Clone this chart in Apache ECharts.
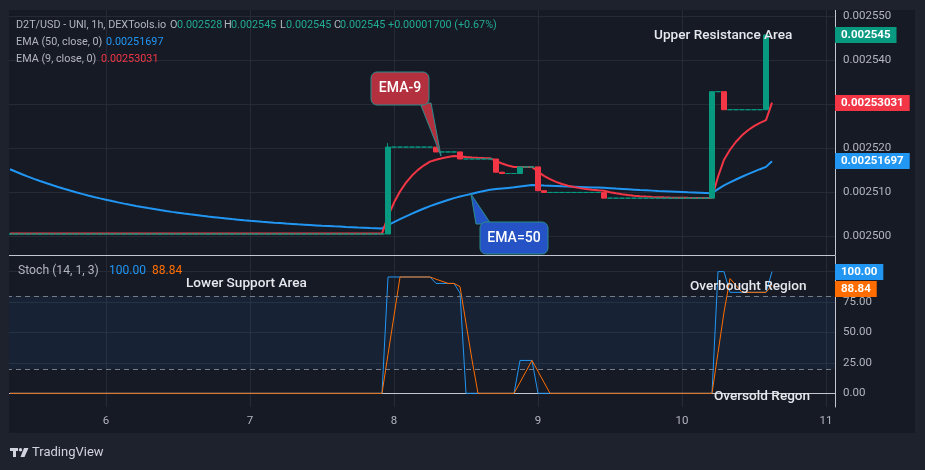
<!DOCTYPE html>
<html>
<head>
<meta charset="utf-8">
<script src="https://cdn.jsdelivr.net/npm/echarts@6/dist/echarts.min.js"></script>
<style>
  html, body { margin: 0; padding: 0; background: #161a25; }
  #chartMain { width: 925px; height: 470px; }
</style>
</head>
<body>
<div id="chartMain"></div>
<script>
  // hourly slots, day 5 08:00 .. day 11 01:00 (last 10 slots are empty space on the right)
  var startDay = 5, startHour = 8, slotCount = 138;
  var hours = [];
  for (var i = 0; i < slotCount; i++) {
    var t = startHour + i;
    var d = startDay + Math.floor(t / 24), hh = t % 24;
    hours.push(d + ' ' + (hh < 10 ? '0' + hh : hh));
  }

  var priceTicks = [0.0025, 0.00251, 0.00252, 0.00253, 0.00254, 0.00255];
  var stochTicks = [0, 25, 50, 75, 100];

  // close of every hourly candle (open = previous close)
  var closes = [
    0.00250045, 0.00250045, 0.00250045, 0.00250045, 0.00250045, 0.00250045, 0.00250045, 0.00250045,
    0.00250045, 0.00250045, 0.00250045, 0.00250045, 0.00250045, 0.00250045, 0.00250045, 0.00250045,
    0.00250045, 0.00250045, 0.00250045, 0.00250045, 0.00250045, 0.00250045, 0.00250045, 0.00250045,
    0.00250045, 0.00250045, 0.00250045, 0.00250045, 0.00250045, 0.00250045, 0.00250045, 0.00250045,
    0.00250045, 0.00250045, 0.00250045, 0.00250045, 0.00250045, 0.00250045, 0.00250045, 0.00250045,
    0.00250045, 0.00250045, 0.00250045, 0.00250045, 0.00250045, 0.00250045, 0.00250045, 0.00250045,
    0.00250045, 0.00250045, 0.00250045, 0.00250045, 0.00250045, 0.00250045, 0.00250045, 0.00250045,
    0.00250045, 0.00250045, 0.00250045, 0.00250045, 0.00250045, 0.00250045, 0.00250045,
    0.0025202, 0.0025202, 0.0025202, 0.0025202, 0.0025202, 0.0025202, 0.0025202, 0.0025202,
    0.0025191, 0.0025191, 0.0025191, 0.0025191, 0.0025175, 0.0025175, 0.0025175, 0.0025175,
    0.0025175, 0.0025175, 0.0025145, 0.0025142, 0.0025142, 0.0025142, 0.0025157, 0.0025157,
    0.0025157, 0.0025103, 0.0025099, 0.0025099, 0.0025099, 0.0025099, 0.0025099, 0.0025099,
    0.0025099, 0.0025099, 0.0025099, 0.0025099, 0.0025086, 0.0025086, 0.0025086, 0.0025086,
    0.0025086, 0.0025086, 0.0025086, 0.0025086, 0.0025086, 0.0025086, 0.0025086, 0.0025086,
    0.0025086, 0.0025086, 0.0025086, 0.0025086, 0.0025086, 0.0025086, 0.0025328, 0.0025328,
    0.0025287, 0.0025287, 0.0025287, 0.0025287, 0.0025287, 0.0025287, 0.0025287, 0.0025457
  ];
  var upperWick = { '7 23': 0.0025211 };

  var ema50 = [
    0.00251516, 0.00251459, 0.00251403, 0.00251350, 0.00251299, 0.00251250, 0.00251203, 0.00251158,
    0.00251115, 0.00251073, 0.00251033, 0.00250994, 0.00250957, 0.00250922, 0.00250888, 0.00250855,
    0.00250823, 0.00250793, 0.00250764, 0.00250736, 0.00250709, 0.00250683, 0.00250658, 0.00250634,
    0.00250612, 0.00250590, 0.00250568, 0.00250548, 0.00250529, 0.00250510, 0.00250492, 0.00250475,
    0.00250458, 0.00250442, 0.00250427, 0.00250412, 0.00250398, 0.00250384, 0.00250371, 0.00250358,
    0.00250346, 0.00250335, 0.00250323, 0.00250313, 0.00250302, 0.00250293, 0.00250283, 0.00250274,
    0.00250265, 0.00250257, 0.00250249, 0.00250241, 0.00250233, 0.00250226, 0.00250219, 0.00250213,
    0.00250206, 0.00250200, 0.00250194, 0.00250189, 0.00250183, 0.00250178, 0.00250173,
    0.00250245, 0.00250315, 0.00250382, 0.00250446, 0.00250508, 0.00250567, 0.00250624, 0.00250679,
    0.00250727, 0.00250773, 0.00250818, 0.00250861, 0.00250896, 0.00250929, 0.00250961, 0.00250992,
    0.00251022, 0.00251050, 0.00251066, 0.00251080, 0.00251093, 0.00251106, 0.00251124, 0.00251142,
    0.00251159, 0.00251154, 0.00251147, 0.00251141, 0.00251135, 0.00251129, 0.00251124, 0.00251119,
    0.00251114, 0.00251109, 0.00251104, 0.00251100, 0.00251095, 0.00251086, 0.00251077, 0.00251069,
    0.00251061, 0.00251053, 0.00251045, 0.00251038, 0.00251031, 0.00251024, 0.00251018, 0.00251012,
    0.00251006, 0.00251000, 0.00250994, 0.00250989, 0.00250984, 0.00250979, 0.00250974, 0.00251065,
    0.00251152, 0.00251219, 0.00251284, 0.00251346, 0.00251406, 0.00251463, 0.00251518, 0.00251571,
    0.00251697
  ];

  var ema9 = [
    0.00250055, 0.00250055, 0.00250055, 0.00250055, 0.00250055, 0.00250055, 0.00250055, 0.00250055,
    0.00250055, 0.00250055, 0.00250055, 0.00250055, 0.00250055, 0.00250055, 0.00250055, 0.00250055,
    0.00250055, 0.00250055, 0.00250055, 0.00250055, 0.00250055, 0.00250055, 0.00250055, 0.00250055,
    0.00250055, 0.00250055, 0.00250055, 0.00250055, 0.00250055, 0.00250055, 0.00250055, 0.00250055,
    0.00250055, 0.00250055, 0.00250055, 0.00250055, 0.00250055, 0.00250055, 0.00250055, 0.00250055,
    0.00250055, 0.00250055, 0.00250055, 0.00250055, 0.00250055, 0.00250055, 0.00250055, 0.00250055,
    0.00250055, 0.00250055, 0.00250055, 0.00250055, 0.00250055, 0.00250055, 0.00250055, 0.00250055,
    0.00250055, 0.00250055, 0.00250055, 0.00250055, 0.00250055, 0.00250055, 0.00250055,
    0.00250444, 0.00250759, 0.00251011, 0.00251213, 0.00251374, 0.00251503, 0.00251606, 0.00251689,
    0.00251733, 0.00251768, 0.00251796, 0.00251819, 0.00251805, 0.00251794, 0.00251785, 0.00251778,
    0.00251772, 0.00251768, 0.00251704, 0.00251647, 0.00251602, 0.00251566, 0.00251567, 0.00251567,
    0.00251568, 0.00251460, 0.00251366, 0.00251291, 0.00251231, 0.00251183, 0.00251144, 0.00251113,
    0.00251088, 0.00251068, 0.00251052, 0.00251040, 0.00251030, 0.00250996, 0.00250969, 0.00250947,
    0.00250930, 0.00250916, 0.00250905, 0.00250896, 0.00250889, 0.00250883, 0.00250878, 0.00250874,
    0.00250871, 0.00250869, 0.00250867, 0.00250866, 0.00250865, 0.00250864, 0.00250863, 0.00251346,
    0.00251733, 0.00251960, 0.00252142, 0.00252288, 0.00252404, 0.00252497, 0.00252572, 0.00252632,
    0.00253031
  ];

  var stochK = [
    0, 0, 0, 0, 0, 0, 0, 0, 0, 0, 0, 0, 0, 0, 0, 0, 0, 0, 0, 0, 0,
    0, 0, 0, 0, 0, 0, 0, 0, 0, 0, 0, 0, 0, 0, 0, 0, 0, 0, 0, 0, 0,
    0, 0, 0, 0, 0, 0, 0, 0, 0, 0, 0, 0, 0, 0, 0, 0, 0, 0, 0, 0, 0,
    95.6, 95.6, 95.6, 95.6, 95.6, 95.6, 95.6, 95.6, 90.3, 90.3, 90.3, 90.3, 82.5,
    0, 0, 0, 0, 0, 0, 0, 0, 0, 27, 27, 27,
    0, 0, 0, 0, 0, 0, 0, 0, 0, 0, 0, 0, 0, 0, 0,
    0, 0, 0, 0, 0, 0, 0, 0, 0, 0, 0, 0, 0, 0, 0,
    100, 100, 83, 83, 83, 83, 83, 83, 83, 100
  ];

  var stochD = [
    0, 0, 0, 0, 0, 0, 0, 0, 0, 0, 0, 0, 0, 0, 0, 0, 0, 0, 0, 0, 0,
    0, 0, 0, 0, 0, 0, 0, 0, 0, 0, 0, 0, 0, 0, 0, 0, 0, 0, 0, 0, 0,
    0, 0, 0, 0, 0, 0, 0, 0, 0, 0, 0, 0, 0, 0, 0, 0, 0, 0, 0, 0, 0,
    31.9, 63.7, 95.6, 95.6, 95.6, 95.6, 95.6, 95.6, 93.8, 92.1, 90.3, 90.3, 87.7, 57.6, 27.5,
    0, 0, 0, 0, 0, 0, 0, 9, 18, 27, 18, 9,
    0, 0, 0, 0, 0, 0, 0, 0, 0, 0, 0, 0, 0, 0,
    0, 0, 0, 0, 0, 0, 0, 0, 0, 0, 0, 0, 0, 0,
    33.3, 66.7, 94.3, 88.7, 83, 83, 83, 83, 83, 88.84
  ];

  // last values shown as tags on the right scale
  var lastPrice = 0.0025457, lastEma50 = 0.00251697, lastEma9 = 0.00253031;
  var lastK = 100, lastD = 88.84;

  var candles = closes.map(function (c, i) {
    var o = i ? closes[i - 1] : c;
    var hi = upperWick[hours[i]] || Math.max(o, c);
    return [o, c, Math.min(o, c), hi];
  });

  var GREEN = '#089981', RED = '#f23645', BLUE = '#2196f3', ORANGE = '#ff6d00';
  var TXT = '#b2b5be', GRIDC = '#252a36', SEP = '#c3c6ce';
  var FONT = 'Roboto, sans-serif';

  function isDay(index, value) { return value.slice(-2) === '00'; }

  function txt(x, y, s, color, size, weight, align) {
    return {
      type: 'text', x: x, y: y, z: 50, silent: true,
      style: {
        text: s, fill: color, align: align || 'left', verticalAlign: 'middle',
        font: (weight || 'normal') + ' ' + size + 'px ' + FONT
      }
    };
  }

  var LEG = 10.8;
  var graphics = [
    // outer frame
    { type: 'rect', z: 40, silent: true, shape: { x: 0, y: 0, width: 925, height: 10 }, style: { fill: '#1e222d' } },
    { type: 'rect', z: 40, silent: true, shape: { x: 0, y: 0, width: 9, height: 470 }, style: { fill: '#1e222d' } },
    { type: 'rect', z: 40, silent: true, shape: { x: 915, y: 0, width: 10, height: 470 }, style: { fill: '#1e222d' } },
    { type: 'rect', z: 40, silent: true, shape: { x: 0, y: 433, width: 925, height: 37 }, style: { fill: '#1e222d' } },

    // legend
    txt(16, 25, 'D2T/USD - UNI, 1h, DEXTools.io', TXT, LEG),
    txt(170, 25, 'O', TXT, LEG), txt(177, 25, '0.002528', '#22ab94', LEG),
    txt(224, 25, 'H', TXT, LEG), txt(231, 25, '0.002545', '#22ab94', LEG),
    txt(280, 25, 'L', TXT, LEG), txt(286, 25, '0.002545', '#22ab94', LEG),
    txt(334, 25, 'C', TXT, LEG), txt(340, 25, '0.002545', '#22ab94', LEG),
    txt(388, 25, '+0.00001700 (+0.67%)', '#22ab94', LEG),
    txt(16, 42, 'EMA (50, close, 0)', TXT, LEG), txt(106, 42, '0.00251697', BLUE, LEG),
    txt(16, 59, 'EMA (9, close, 0)', TXT, LEG), txt(101, 59, '0.00253031', RED, LEG),
    txt(18, 271, 'Stoch (14, 1, 3)', TXT, 12.2), txt(109, 271, '100.00', BLUE, 12),
    txt(152, 271, '88.84', ORANGE, 12),

    // annotations
    txt(654, 36, 'Upper Resistance Area', '#e6e8ee', 13.6, 500),
    txt(186, 284, 'Lower Support Area', '#e6e8ee', 13.6, 500),
    txt(690, 287, 'Overbought Region', '#e6e8ee', 13.6, 500),
    txt(714, 397, 'Oversold Regon', '#e6e8ee', 13.6, 500),

    // callouts
    { type: 'polygon', z: 45, silent: true, shape: { points: [[420, 103], [431, 103], [441, 156]] },
      style: { fill: '#b3303f', stroke: '#2b8c8c', lineWidth: 1 } },
    { type: 'rect', z: 46, silent: true, shape: { x: 371, y: 72, width: 58, height: 33, r: 6 },
      style: { fill: '#b3303f', stroke: '#2b8c8c', lineWidth: 1 } },
    txt(400, 88.5, 'EMA-9', '#ffffff', 14, 500, 'center'),
    { type: 'polygon', z: 45, silent: true, shape: { points: [[471, 194], [476, 224], [491, 224]] },
      style: { fill: '#2552c4', stroke: '#2b8c8c', lineWidth: 1 } },
    { type: 'rect', z: 46, silent: true, shape: { x: 480, y: 222, width: 68, height: 32, r: 6 },
      style: { fill: '#2552c4', stroke: '#2b8c8c', lineWidth: 1 } },
    txt(514, 238, 'EMA=50', '#ffffff', 14, 500, 'center'),

    // TradingView mark
    { type: 'rect', z: 50, silent: true, shape: { x: 10, y: 448, width: 8, height: 3 }, style: { fill: '#d1d4dc' } },
    { type: 'rect', z: 50, silent: true, shape: { x: 13, y: 448, width: 3, height: 9 }, style: { fill: '#d1d4dc' } },
    { type: 'circle', z: 50, silent: true, shape: { cx: 20.5, cy: 449.7, r: 1.7 }, style: { fill: '#d1d4dc' } },
    { type: 'polygon', z: 50, silent: true, shape: { points: [[24, 448], [28.5, 448], [24.5, 457], [20.5, 457]] }, style: { fill: '#d1d4dc' } },
    txt(32, 452.5, 'TradingView', '#d1d4dc', 13)
  ];

  var option = {
    animation: false,
    backgroundColor: '#161a25',
    grid: [
      { left: 7, right: 90, top: 10, height: 245 },
      { left: 7, right: 90, top: 256, height: 151 }
    ],
    xAxis: [
      {
        type: 'category', gridIndex: 0, data: hours, boundaryGap: true,
        axisLine: { show: true, lineStyle: { color: SEP } }, axisTick: { show: false },
        axisLabel: { show: false },
        splitLine: { show: true, interval: isDay, alignWithLabel: true, lineStyle: { color: GRIDC } }
      },
      {
        type: 'category', gridIndex: 1, data: hours, boundaryGap: true,
        axisLine: { show: true, lineStyle: { color: SEP } }, axisTick: { show: false },
        axisLabel: {
          interval: isDay, color: TXT, fontFamily: FONT, fontSize: 11.5, margin: 8,
          formatter: function (v) { return v.split(' ')[0]; }
        },
        splitLine: { show: true, interval: isDay, alignWithLabel: true, lineStyle: { color: GRIDC } }
      }
    ],
    yAxis: [
      {
        type: 'value', gridIndex: 0, position: 'right', scale: true,
        min: 0.00249568, max: 0.00255136,
        axisLine: { show: true, lineStyle: { color: SEP } },
        axisTick: { show: false, customValues: priceTicks },
        axisLabel: {
          customValues: priceTicks, color: TXT, fontFamily: FONT, fontSize: 11.5, margin: 8,
          formatter: function (v) { return v.toFixed(6); }
        },
        splitLine: { show: true, lineStyle: { color: GRIDC } }
      },
      {
        type: 'value', gridIndex: 1, position: 'right',
        min: -11.26, max: 112.85,
        axisLine: { show: true, lineStyle: { color: SEP } },
        axisTick: { show: false, customValues: stochTicks },
        axisLabel: {
          customValues: stochTicks, color: TXT, fontFamily: FONT, fontSize: 11.5, margin: 8,
          formatter: function (v) { return v.toFixed(2); }
        },
        splitLine: { show: true, lineStyle: { color: GRIDC } }
      }
    ],
    series: [
      {
        name: 'EMA 50', type: 'line', xAxisIndex: 0, yAxisIndex: 0, data: ema50,
        showSymbol: false, z: 2, lineStyle: { color: BLUE, width: 2 }
      },
      {
        name: 'EMA 9', type: 'line', xAxisIndex: 0, yAxisIndex: 0, data: ema9,
        showSymbol: false, z: 2, lineStyle: { color: RED, width: 2 }
      },
      {
        name: 'D2T/USD', type: 'candlestick', xAxisIndex: 0, yAxisIndex: 0, data: candles,
        barWidth: 5, z: 3,
        itemStyle: {
          color: GREEN, color0: RED, borderColor: GREEN, borderColor0: RED,
          borderColorDoji: GREEN, borderWidth: 1
        },
        markLine: {
          silent: true, symbol: 'none',
          lineStyle: { color: GREEN, type: [1, 3], width: 1 },
          label: { show: false },
          data: [{ yAxis: lastPrice }]
        }
      },
      {
        name: '%K', type: 'line', xAxisIndex: 1, yAxisIndex: 1, data: stochK,
        showSymbol: false, lineStyle: { color: BLUE, width: 1 },
        markArea: {
          silent: true, itemStyle: { color: 'rgba(33,150,243,0.08)' },
          data: [[{ yAxis: 20 }, { yAxis: 80 }]]
        }
      },
      {
        name: '%D', type: 'line', xAxisIndex: 1, yAxisIndex: 1, data: stochD,
        showSymbol: false, lineStyle: { color: ORANGE, width: 1 },
        markLine: {
          silent: true, symbol: 'none', label: { show: false },
          lineStyle: { color: '#787b86', type: [5, 4], width: 1 },
          data: [{ yAxis: 80 }, { yAxis: 20 }]
        }
      }
    ],
    graphic: graphics
  };

  var myChart = echarts.init(document.getElementById('chartMain'));
  myChart.setOption(option);

  // value tags on the price / stoch scales, placed through the axes
  var tags = [
    { axis: 0, val: lastPrice, text: '0.002545', bg: GREEN },
    { axis: 0, val: lastEma9, text: '0.00253031', bg: RED },
    { axis: 0, val: lastEma50, text: '0.00251697', bg: BLUE },
    { axis: 1, val: lastK, text: '100.00', bg: BLUE },
    { axis: 1, val: lastD, text: '88.84', bg: ORANGE, shift: 4 }
  ];
  var tagEls = tags.map(function (tg) {
    var y = myChart.convertToPixel({ yAxisIndex: tg.axis }, tg.val) + (tg.shift || 0);
    return {
      type: 'text', x: 835, y: Math.round(y), z: 60, silent: true,
      style: {
        text: tg.text, fill: '#ffffff', backgroundColor: tg.bg,
        padding: [2, 6, 2, 6], lineHeight: 12, verticalAlign: 'middle',
        font: 'bold 11.5px ' + FONT
      }
    };
  });
  myChart.setOption({ graphic: graphics.concat(tagEls) });
</script>
</body>
</html>
